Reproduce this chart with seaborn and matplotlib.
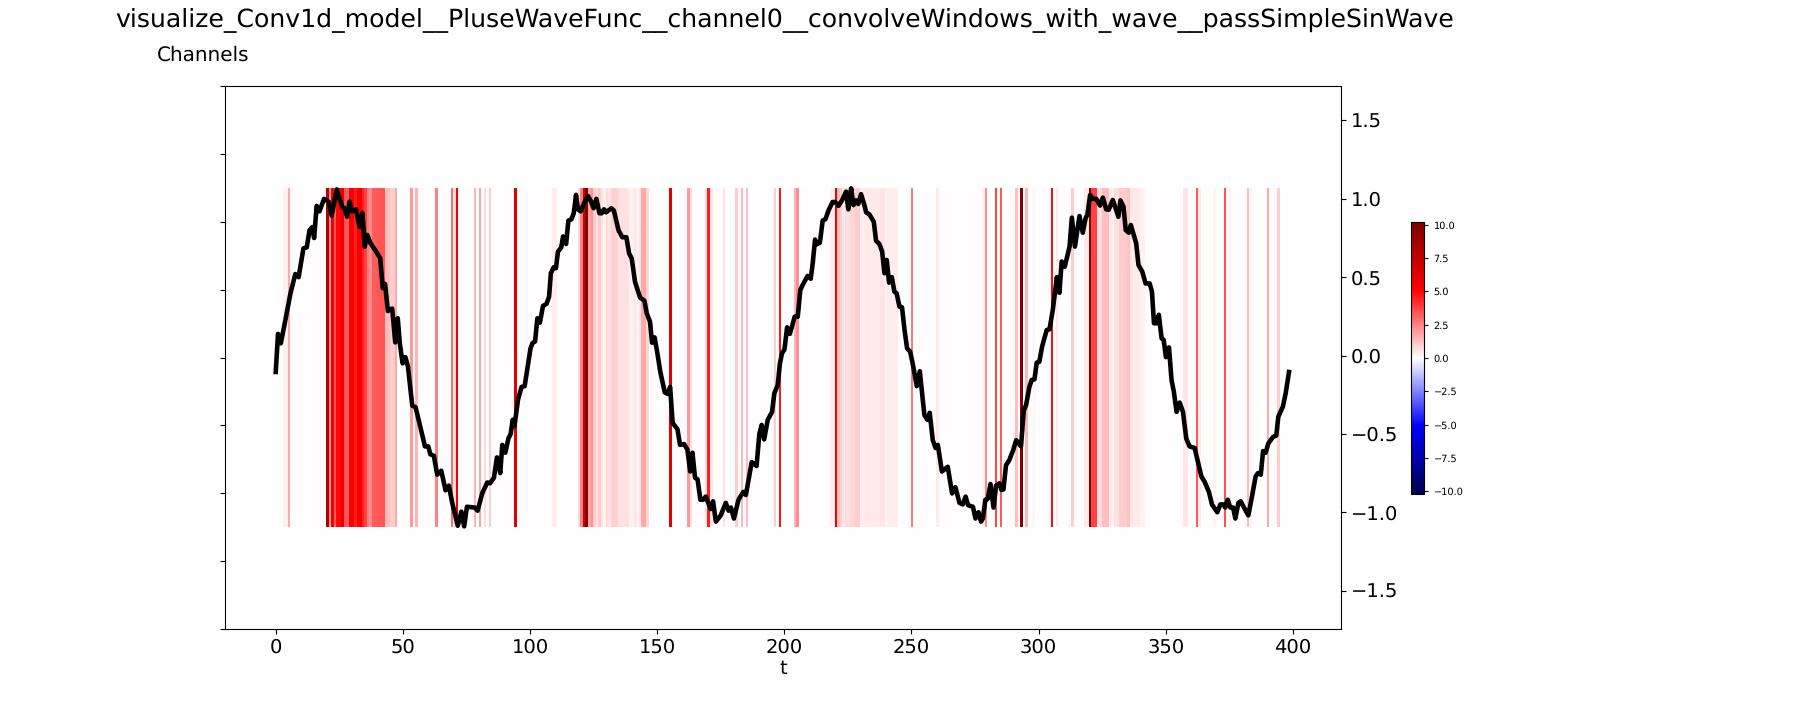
import numpy as np
import pandas as pd
import matplotlib
matplotlib.use("Agg")
import matplotlib.pyplot as plt
import seaborn as sns

plt.rcParams["text.hinting"] = "no_hinting"

# wave
wave_t = [0, .9, 2, 3.8, 5.8, 7.7, 9, 10.9, 12.2, 13.3, 14.4, 15.1, 16.1, 17.2, 19, 20.9, 22, 24, 26.1, 27, 28.1, 29, 30, 31.6, 33, 34.1, 35, 36, 37.3, 39.5, 41.1, 42.1, 43, 44.1, 45.8, 47, 48, 48.8, 49.9, 51, 52, 53.7, 55, 58.7, 60, 60.8, 62.2, 63.5, 65.1, 66.8, 68.1, 69.4, 71.6, 73, 74.1, 75.2, 78.3, 79.4,
          81.2, 83.2, 84.3, 85.8, 87, 88.3, 89.1, 90.3, 91.5, 92.4, 93.2, 93.9, 95.3, 96.7, 97.9, 100.2, 101, 102, 102.9, 103.9, 105.1, 106.5, 107.5, 108.2, 109.3, 110.2, 111, 112.3, 113, 114.2, 115.1, 116.3, 117.2, 118.1, 118.9, 119.9, 121.5, 122.8, 124.1, 125, 126.1, 127.3, 128.2, 129.1, 129.9, 132, 133, 134.8, 136.3, 137.9, 139, 140, 141.3, 143.3, 145, 145.9, 147.2, 148, 149, 150.1, 151.2, 153, 154.2, 155.1, 156.1, 158, 159, 160.6, 161.9, 163, 163.9, 164.9, 165.9, 167, 168.1, 169.1, 171.1, 172, 173.1, 175, 177, 178.1, 179, 180.2, 182,
          183.9, 184.9, 187.2, 189.1, 190.2, 191.1, 192.1, 193.5, 195.2, 196.1, 197.4, 198.3, 199.1, 200.1, 201.1, 202.2, 204.1, 205.3, 206.3, 207.2, 209.2, 210.4, 211.2, 212.1, 212.9, 214, 215.1, 216.2, 217.5, 219, 220, 221.3, 222.7, 224.3, 225.2, 226.3, 227.2, 228.2, 229.1, 230.2, 231.5, 232.2, 233.5, 235.2, 236.1, 237.4, 238.5, 239.4, 240.3, 241.2, 242.3, 243.3, 244.2, 245.3, 246.3, 247.3, 248.3, 249.5, 250.5, 252.1, 253.3, 254.2, 255.1, 256.3, 257.2, 258.4, 259.5, 260.4, 262, 264.3, 266, 267.3, 268.9, 270.2, 271.3, 272.3, 274.2, 275.2, 276.4, 277.4, 278.1, 279.1, 280, 281.1, 282.3, 283.3,
          284.6, 285.4, 286.2, 287.2, 288.5, 290.1, 291.2, 293.1, 294.2, 295.1, 296.4, 297.3, 298.4, 299.3, 300.3, 301.4, 303.2, 304.3, 305.6, 307.2, 308.2, 309.1, 310.3, 312.2, 313.1, 314.3, 316.1, 317.4, 318.5, 319.2, 320.3, 321.3, 322.7, 324.2, 325.3, 326.6, 327.6, 329.2, 331.4, 332.2, 333.4, 334.3, 335.5, 336.3, 338.4, 339.3, 340.8, 342.1, 343.7, 344.6, 345.4, 346.5, 347.3, 348.4, 349.2, 350.1, 351.3, 352.3, 353.2, 354.3, 355.5, 356.8, 358.1, 359.4, 361.4, 364, 365.3, 367, 368.2, 370.3, 371.5, 372.8, 373.4, 374.4, 375.4, 376.5, 377.4, 378.6, 379.5, 380.8, 382.5, 383.7, 385.4, 386.3, 387.4, 388.3, 389.3, 390.4, 392.2, 393.5, 394.3, 396.1, 397.2, 398.5]
wave_v = [-.105, .138, .078, .227, .397, .52, .50, .684, .69, .80, .82, .75, .955, .92, 1.0, .98, .893, 1.06, .95, .94, .886, .982, .92, .933, .82, .91, .695, .77, .716, .663, .62, .43, .457, .284, .30, .084, .238, .078, -.05, -.01, -.07, -.32, -.33, -.58, -.58, -.63, -.64, -.76, -.735, -.86, -.83, -.94, -1.086, -.996, -1.09, -.965, -.97, -.99,
          -.88, -.81, -.815, -.78, -.65, -.75, -.57, -.62, -.53, -.50, -.41, -.45, -.28, -.20, -.195, .046, .08, .09, .238, .21, .316, .33, .376, .525, .563, .557, .663, .69, .76, .712, .861, .87, .908, 1.025, .933, .92, .98, 1.018, .98, .94, 1.0, .908, .908, .933, .914, .94, .925, .80, .755, .755, .65, .62, .47, .37, .35, .27, .216, .082, .116, .014, -.10, -.235, -.245, -.20, -.43, -.47, -.57, -.565, -.60, -.74, -.62, -.78, -.79, -.92, -.92, -.90, -.98, -.93, -1.06, -1.02, -.94, -.99, -.97, -1.04, -.92,
          -.87, -.89, -.68, -.705, -.50, -.443, -.535, -.41, -.36, -.24, -.19, -.05, .014, .04, .18, .138, .248, .248, .418, .45, .508, .49, .59, .74, .71, .72, .861, .87, .93, .98, .98, .955, .99, 1.046, .933, 1.067, .96, .99, .967, 1.03, .96, .914, .90, .854, .733, .712, .663, .525, .61, .465, .50, .408, .397, .312, .308, .163, .046, .025, -.05, -.195, -.10, -.24, -.38, -.41, -.365, -.54, -.59, -.57, -.74, -.71, -.88, -.84, -.94, -.95, -.90, -.955, -.965, -1.04, -1.0, -1.06, -1.04, -.92, -.915, -.82, -.97, -.83,
          -.815, -.858, -.854, -.70, -.667, -.60, -.54, -.58, -.35, -.316, -.20, -.156, -.152, -.045, -.04, .057, .163, .167, .29, .50, .40, .60, .567, .695, .88, .695, .89, .784, .876, .897, 1.025, 1.0, 1.0, .957, 1.008, .933, .93, .993, .886, .99, .95, .80, .784, .833, .716, .578, .535, .46, .46, .408, .206, .206, .26, .11, .10, -.01, .052, -.156, -.23, -.36, -.30, -.36, -.53, -.58, -.59, -.77, -.805, -.87, -.95, -1.0, -.95, -.95, -.97, -.92, -.97, -.97, -1.04, -.94, -.93, -.97, -1.02, -.92, -.77, -.75, -.76, -.61, -.62, -.56, -.52, -.51, -.39, -.326, -.24, -.105]

# filter activation by window index, written as runs: each value holds until the next start
heat_start = [0, 3, 5, 6, 20, 21, 22, 23, 24, 26, 27, 28, 29, 31, 32, 34, 35, 36, 37, 38, 40, 43, 45, 47, 48,
              53, 54, 55, 56, 63, 64, 69, 70, 71, 72, 78, 79, 80, 81, 82, 83, 84, 85, 94, 95,
              109, 111, 119, 120, 121, 122, 123, 124, 125, 126, 127, 128, 129, 130, 131, 132, 135, 139, 141, 142, 143, 144, 146, 147,
              155, 156, 162, 163, 164, 169, 170, 171, 172, 176, 177, 181, 182, 183, 184, 185, 186, 196, 197, 198, 199,
              204, 205, 206, 218, 220, 221, 222, 223, 224, 226, 228, 230, 232, 234, 238, 240, 241, 245, 250, 251, 260, 261,
              278, 279, 280, 283, 284, 285, 286, 291, 292, 293, 294, 295, 296, 298, 299, 305, 306, 307, 308, 313, 314,
              318, 320, 321, 323, 325, 328, 329, 330, 332, 335, 336, 340, 342, 357, 359, 362, 363, 364, 369, 370, 373, 374, 375, 376,
              382, 383, 384, 390, 391, 394, 395, 399]
heat_value = [.02, .3, 1.7, .02, 8, 2, 5.5, 3.2, 5, 5.8, 3.5, 3.2, 5.2, 4.5, 5.2, 4.4, 3.8, 2.6, 2.3, 3.2, 3.4, 1.3, 1, 1.7, .02,
              2, .02, 1.5, .02, 2.5, .02, 2.8, .6, 5.5, .02, 1.5, .02, 1.8, .02, .7, .02, 1, .02, 6.2, .02,
              .35, .02, .6, 2.5, 7, 10, 1.8, 2.2, 1, .6, 1.1, .5, .3, .7, .5, .9, .6, .3, .5, .3, .5, 1.7, .8, .02,
              6.3, .02, 2, .6, .02, .6, 4.5, .5, .02, .6, .02, 1, .02, 1.4, .02, 1.3, .02, 1, .02, 4.6, .02,
              1.5, 2.3, .02, .3, 5.5, 1.3, 1, .4, .7, .8, 1, .35, .4, .45, .55, .3, .35, .02, 2.7, .02, .4, .02,
              .3, 2.3, .02, 3.7, .02, 3.3, .02, 1.3, .02, 10, .02, 1.4, .02, .2, .02, 4.8, .02, .4, .02, 1, .02,
              .4, 10, 3.8, .7, 1.3, .4, .3, .6, 1, 1.2, .45, .3, .02, .5, .02, 3.3, .4, .02, .2, .02, 3.5, .02, .3, .02,
              1.3, .2, .02, 1.7, .02, 1, .02]

title_text = "visualize_Conv1d_model__PluseWaveFunc__channel0__convolveWindows_with_wave__passSimpleSinWave"
right_ticks = [-1.5, -1.0, -0.5, 0.0, 0.5, 1.0, 1.5]
x_ticks = [0, 50, 100, 150, 200, 250, 300, 350, 400]
cbar_ticks = [-10, -7.5, -5, -2.5, 0, 2.5, 5, 7.5, 10]

heat = np.repeat(heat_value, np.diff(heat_start)).reshape(1, -1)
df = pd.DataFrame({"t": wave_t, "v": wave_v})

W, H = 1800, 720
fig = plt.figure(figsize=(18, 7.2), dpi=100)
pos = [225 / W, 1 - 629 / H, 1116 / W, 543 / H]
ax_heat = fig.add_axes(pos)
cax = fig.add_axes([1411 / W, 1 - 494 / H, 13.5 / W, 272 / H])

sns.heatmap(heat, ax=ax_heat, cbar_ax=cax, cmap="seismic", vmin=-10.2, vmax=10.2,
            xticklabels=False, yticklabels=False)

# seaborn cells sit on i..i+1, the reference has them about 0.3 right of i
ax_heat.set_xlim(-19.95 + .2, 418.95 + .2)
ylim_lo, ylim_hi = -1.745, 1.72
band_lo, band_hi = -1.095, 1.07
band = band_hi - band_lo
ax_heat.set_ylim(1 + (band_lo - ylim_lo) / band, -(ylim_hi - band_hi) / band)
ax_heat.set_yticks(np.linspace(ax_heat.get_ylim()[0], ax_heat.get_ylim()[1], 9))
ax_heat.set_yticklabels([])
ax_heat.tick_params(axis="x", bottom=False)

cb = ax_heat.collections[0].colorbar
cb.set_ticks(cbar_ticks)
cb.ax.tick_params(labelsize=7, length=3)
cb.ax.set_yticklabels(["\u221210.0", "\u22127.5", "\u22125.0", "\u22122.5", "0.0", "2.5", "5.0", "7.5", "10.0"])
cb.outline.set_visible(True)
cb.outline.set_linewidth(.8)
cb.outline.set_edgecolor("black")

ax = fig.add_axes(pos, facecolor="none")
sns.lineplot(data=df, x="t", y="v", ax=ax, color="black", linewidth=3.3, sort=False, errorbar=None)
ax.set_xlim(-19.95, 418.95)
ax.set_ylim(ylim_lo, ylim_hi)
ax.yaxis.tick_right()
ax.set_yticks(right_ticks)
ax.set_xticks(x_ticks)
ax.tick_params(labelsize=14)
ax.set_xlabel("t", fontsize=14, labelpad=1.5)
ax.set_ylabel("")

fig.text(115 / W, 1 - 26 / H, title_text, fontsize=18.05, va="baseline", ha="left")
fig.text(157 / W, 1 - 61 / H, "Channels", fontsize=14.4, va="baseline", ha="left")

fig.savefig("out.png", dpi=100)
